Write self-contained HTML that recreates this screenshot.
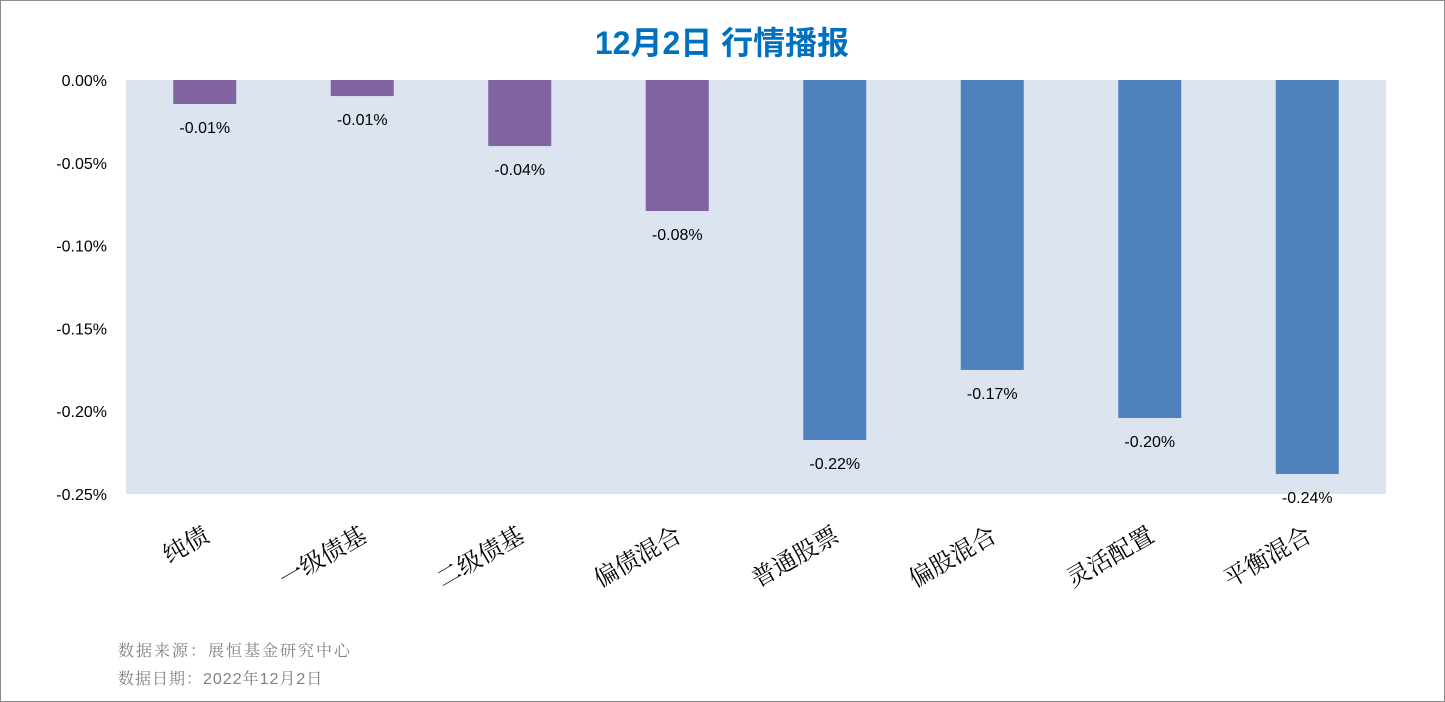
<!DOCTYPE html>
<html><head><meta charset="utf-8"><style>
body{margin:0;background:#fff}
svg{display:block}
</style></head><body>
<svg width="1445" height="702" xmlns="http://www.w3.org/2000/svg">
<rect x="0.5" y="0.5" width="1444" height="701" fill="#fff" stroke="#8c8c8c"/>
<text x="722" y="54" text-anchor="middle" font-family="'Liberation Sans','Noto Sans CJK SC',sans-serif" font-size="32" font-weight="bold" fill="#0070C0">12月2日  行情播报</text>
<rect x="126" y="80" width="1260" height="414" fill="#DCE4F0"/>
<g id="yaxis"></g>
<g id="bars"></g>
<g id="xlabels"></g>
<text x="118" y="656" font-family="'Liberation Sans','Noto Serif CJK SC',serif" font-size="16" fill="#808080" letter-spacing="2">数据来源：展恒基金研究中心</text>
<text x="118" y="684" font-family="'Liberation Sans','Noto Serif CJK SC',serif" font-size="16" fill="#808080" letter-spacing="1">数据日期：2022年12月2日</text>
</svg>
<script>
const categories=["纯债","一级债基","二级债基","偏债混合","普通股票","偏股混合","灵活配置","平衡混合"];
const values=[-0.0145,-0.0097,-0.0399,-0.0791,-0.2174,-0.1751,-0.2041,-0.2379];
const valueLabels=["-0.01%","-0.01%","-0.04%","-0.08%","-0.22%","-0.17%","-0.20%","-0.24%"];
const colors=["#8064A2","#8064A2","#8064A2","#8064A2","#4F81BD","#4F81BD","#4F81BD","#4F81BD"];
const yTicks=[0,-0.05,-0.10,-0.15,-0.20,-0.25];
const yTickLabels=["0.00%","-0.05%","-0.10%","-0.15%","-0.20%","-0.25%"];
const NS="http://www.w3.org/2000/svg";
const X0=126,W=1260,Y0=80,H=414,YMIN=-0.25;
const y=v=>Y0+(v/YMIN)*H;
const band=W/categories.length;
const xc=i=>X0+band*(i+0.5);
function mk(t,a,p){const e=document.createElementNS(NS,t);for(const k in a)e.setAttribute(k,a[k]);p.appendChild(e);return e;}
const ya=document.getElementById('yaxis');
yTicks.forEach((v,i)=>{
 const t=mk('text',{x:107,y:y(v)+6,'text-anchor':'end','font-family':'Liberation Sans,sans-serif','font-size':16,fill:'#000'},ya);
 
 
 t.textContent=yTickLabels[i];
});
const bg=document.getElementById('bars');
values.forEach((v,i)=>{
 const r=mk('rect',{x:xc(i)-31.5,y:y(0),width:63,height:y(v)-y(0),fill:colors[i]},bg);
 
 
 const t=mk('text',{x:xc(i),y:y(v)+29,'text-anchor':'middle','font-family':'Liberation Sans,sans-serif','font-size':16,fill:'#000'},bg);
 
 
 t.textContent=valueLabels[i];
});
const xl=document.getElementById('xlabels');
categories.forEach((c,i)=>{
 const px=xc(i)+6,py=540;
 const t=mk('text',{x:px,y:py,'text-anchor':'end','font-family':"'Noto Serif CJK SC',serif",'font-size':24,fill:'#000',transform:`rotate(-30 ${px} ${py})`},xl);
 
 
 t.textContent=c;
});
</script>
</body></html>
